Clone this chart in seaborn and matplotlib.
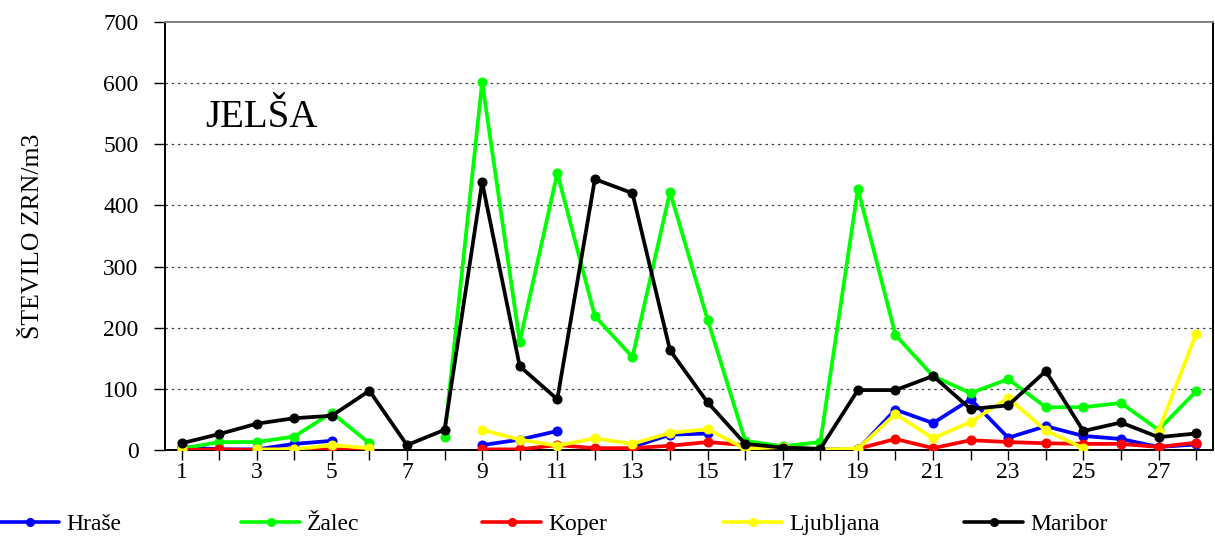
import numpy as np
import pandas as pd
import seaborn as sns
from matplotlib import pyplot as plt
from matplotlib.lines import Line2D

nan = np.nan
days = list(range(1, 29))
hrase = [5, 1, 1, 10, 15, nan, nan, nan, 8, 17, 31, nan, 5, 25, 27, nan, nan, 1, 1, 66, 44, 83, 20, 39, 23, 18, 5, 9]
zalec = [2, 13, 13, 22, 61, 11, nan, 22, 602, 177, 453, 219, 152, 422, 213, 15, 6, 13, 427, 188, 121, 93, 116, 70, 70, 77, 33, 96]
koper = [0, 1, 0, 1, 1, 1, nan, nan, 1, 1, 8, 3, 3, 7, 13, 8, nan, nan, 2, 18, 3, 16, 13, 11, 10, 10, 5, 12]
ljubljana = [1, nan, 1, 1, 8, 3, nan, nan, 33, 17, 7, 19, 10, 28, 34, 2, 5, 1, 2, 59, 19, 46, 85, 32, 3, nan, 31, 190]
maribor = [11, 26, 43, 52, 56, 97, 8, 33, 438, 137, 83, 443, 420, 163, 78, 10, 4, 2, 98, 98, 121, 67, 73, 129, 31, 45, 21, 27]

names = ['Hraše', 'Žalec', 'Koper', 'Ljubljana', 'Maribor']
colors = ['#0000ff', '#00ff00', '#ff0000', '#ffff00', '#000000']
series = [hrase, zalec, koper, ljubljana, maribor]
xlabels = [str(d) if d % 2 == 1 else '' for d in days]

sns.set_style("white")
plt.rcParams['font.family'] = ['Liberation Serif', 'DejaVu Serif']
plt.rcParams['text.color'] = 'black'
plt.rcParams['axes.labelcolor'] = 'black'

fig = plt.figure(figsize=(12.15, 5.4), dpi=100)
ax = fig.add_axes([165 / 1215, 1 - 450 / 540, 1048 / 1215, 428 / 540])

for i, (name, vals, col) in enumerate(zip(names, series, colors)):
    df = pd.DataFrame({'day': days, 'val': vals})
    # split into runs so missing days leave gaps
    df['run'] = df['val'].isna().cumsum()
    df = df.dropna()
    for _, part in df.groupby('run'):
        sns.lineplot(x='day', y='val', data=part, ax=ax, color=col, lw=2.7,
                     marker='o', markersize=6.5, markeredgecolor=col,
                     zorder=3 + i, legend=False)

ax.set_xlim(0.56, 28.45)
ax.set_ylim(0, 700)
ax.set_xticks(days)
ax.set_xticklabels(xlabels)
ax.set_yticks(range(0, 701, 100))
ax.tick_params(axis='both', labelsize=17, colors='#000000')
ax.tick_params(axis='x', direction='out', length=7, width=1, pad=2, bottom=True)
ax.tick_params(axis='y', direction='out', length=8, width=1, pad=11, left=True)
ax.set_xlabel('')
ax.set_ylabel('ŠTEVILO ZRN/m3', fontsize=18.5)
ax.yaxis.set_label_coords(-0.115, 0.5)

for y in range(100, 700, 100):
    ax.axhline(y, color='#444444', lw=0.9, ls=(0, (2, 3)), zorder=1)

for s in ['left', 'bottom', 'right']:
    ax.spines[s].set_color('black')
    ax.spines[s].set_linewidth(1.4)
ax.spines['top'].set_color('#808080')
ax.spines['top'].set_linewidth(1.4)

ax.text(1.64, 528, 'JELŠA', fontsize=28, va='baseline', ha='left', color='black')

for k, (name, col) in enumerate(zip(names, colors)):
    h = Line2D([], [], color=col, lw=2.6, marker='o', markersize=5.5)
    fig.legend(handles=[h], labels=[name], loc='center left',
               bbox_to_anchor=((k * 241) / 1215, 1 - 524 / 540),
               frameon=False, fontsize=17, handlelength=2.5,
               handletextpad=0.3, borderpad=0, borderaxespad=0)

plt.savefig('out.png', dpi=100)
